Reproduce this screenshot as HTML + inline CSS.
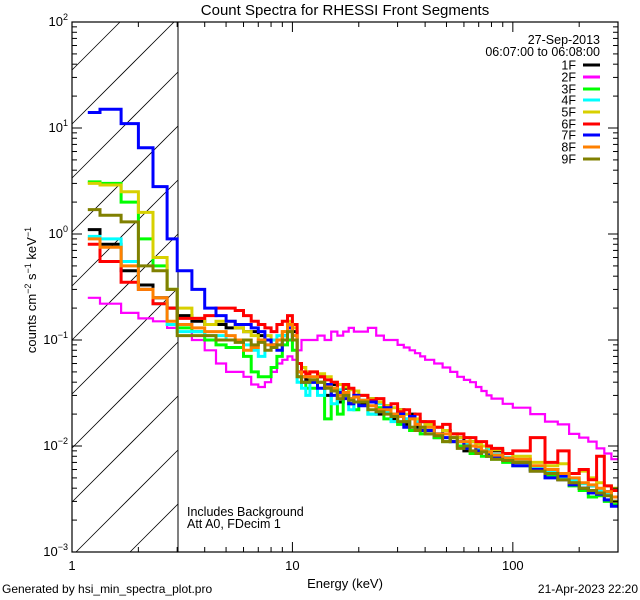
<!DOCTYPE html>
<html><head><meta charset="utf-8"><style>
html,body{margin:0;padding:0;background:#fff;width:640px;height:600px;overflow:hidden;}
svg{display:block;font-family:"Liberation Sans",sans-serif;overflow:hidden;}
</style></head><body>
<svg id="chart" width="640" height="600" viewBox="0 0 640 600" xmlns="http://www.w3.org/2000/svg">
<rect x="0" y="0" width="640" height="600" fill="#fff"/>
<g id="hatch" stroke="#000" stroke-width="0.8"></g>
<line x1="178" y1="22" x2="178" y2="552" stroke="#000" stroke-width="1"/>
<g id="series"></g>
<rect x="72" y="22" width="546" height="530" fill="none" stroke="#000" stroke-width="1.2"/>
<g id="ticks" stroke="#000" stroke-width="1"></g>
<g id="labels" font-size="13" fill="#000"></g>
<text x="345" y="15" font-size="15" text-anchor="middle">Count Spectra for RHESSI Front Segments</text>
<text x="345" y="588" font-size="13" text-anchor="middle">Energy (keV)</text>
<text transform="translate(36,290) rotate(-90)" font-size="13" text-anchor="middle">counts cm<tspan dy="-5" font-size="9">−2</tspan><tspan dy="5"> s</tspan><tspan dy="-5" font-size="9">−1</tspan><tspan dy="5"> keV</tspan><tspan dy="-5" font-size="9">−1</tspan></text>
<text x="600" y="44" font-size="12.5" text-anchor="end">27-Sep-2013</text>
<text x="600" y="56" font-size="12.5" text-anchor="end">06:07:00 to 06:08:00</text>
<g id="legend" font-size="12.5"></g>
<text x="187" y="516" font-size="12.5">Includes Background</text>
<text x="187" y="528" font-size="12.5">Att A0, FDecim 1</text>
<text x="2" y="593" font-size="12">Generated by hsi_min_spectra_plot.pro</text>
<text x="638" y="593" font-size="12" text-anchor="end">21-Apr-2023 22:20</text>
</svg>
<script>
const edges=[1.18,1.34,1.67,2.0,2.33,2.7,3.0,3.5,4,4.5,5,5.5,6,6.5,7,7.5,8,8.5,9,9.5,10,10.5,11,11.5,12,13,14,15,16,17,18,19,20,22,24,26,28,30,32,34,36,38,40,44,48,52,56,60,64,68,72,76,80,90,100,120,140,160,180,200,220,240,260,280,300];
const seriesNames=["1F","2F","3F","4F","5F","6F","7F","8F","9F"];
const seriesColors=["#000000","#ff00ff","#00ff00","#00ffff","#d8d000","#ff0000","#0000ff","#ff8000","#808000"];
const s1F=[1.1,0.8,0.45,0.33,0.25,0.2, 0.17,0.15,0.14,0.14,0.13,0.13,0.12,0.12,0.11,0.1,0.09,0.1,0.11,0.14,0.12,0.05,0.045,0.042, 0.04,0.045,0.03,0.038,0.026,0.035,0.025,0.03, 0.025,0.028,0.02,0.024,0.018,0.022,0.016,0.02,0.015,0.017, 0.014,0.012,0.014,0.011,0.012,0.009,0.011,0.0085,0.01,0.008, 0.009,0.0075, 0.007,0.0058,0.006,0.0048,0.0045,0.004,0.0042,0.0035,0.0037,0.003];
const s2F=[0.25,0.22,0.18,0.16,0.15,0.13, 0.12,0.1,0.08,0.06,0.05,0.05,0.045,0.038,0.036,0.04,0.05,0.06,0.065,0.07,0.065,0.08,0.1,0.1, 0.1,0.11,0.1,0.12,0.11,0.12,0.13,0.12, 0.12,0.13,0.11,0.1,0.1,0.09,0.085,0.08,0.075,0.07, 0.065,0.06,0.055,0.05,0.045,0.042,0.04,0.036,0.033,0.03, 0.028,0.025, 0.023,0.02,0.017,0.016,0.013,0.012,0.011,0.0095,0.0085,0.0075];
const s3F=[3.1,3.0,2.0,0.9,0.5,0.3, 0.13,0.12,0.1,0.09,0.085,0.085,0.07,0.05,0.045,0.045,0.055,0.07,0.09,0.1,0.08,0.045,0.04,0.035, 0.035,0.04,0.018,0.035,0.02,0.03,0.028,0.022, 0.026,0.02,0.023,0.018,0.02,0.016,0.018,0.014,0.016,0.013, 0.013,0.012,0.011,0.012,0.01,0.0095,0.0085,0.009,0.008,0.0085, 0.0075,0.007, 0.0065,0.006,0.0052,0.005,0.0042,0.0038,0.0033,0.0034,0.003,0.0028];
const s4F=[0.95,0.9,0.55,0.3,0.22,0.14, 0.12,0.12,0.11,0.11,0.1,0.1,0.09,0.08,0.07,0.09,0.1,0.11,0.11,0.12,0.1,0.04,0.035,0.03, 0.04,0.03,0.038,0.025,0.034,0.03,0.022,0.029, 0.027,0.02,0.025,0.021,0.017,0.02,0.018,0.015,0.017,0.015, 0.015,0.013,0.012,0.013,0.011,0.0105,0.01,0.0095,0.009,0.0092, 0.0083,0.0078, 0.0072,0.0062,0.0058,0.005,0.0048,0.0044,0.0042,0.0038,0.0035,0.0033];
const s5F=[3.0,2.9,2.5,1.6,0.6,0.3, 0.2,0.16,0.14,0.15,0.15,0.13,0.12,0.11,0.1,0.11,0.09,0.1,0.12,0.15,0.13,0.06,0.055,0.05, 0.05,0.048,0.045,0.04,0.038,0.036,0.034,0.033, 0.03,0.028,0.026,0.024,0.023,0.022,0.02,0.019,0.018,0.017, 0.016,0.015,0.014,0.013,0.012,0.012,0.011,0.0105,0.01,0.0098, 0.0092,0.0085, 0.008,0.007,0.0065,0.0068,0.0055,0.0058,0.005,0.0045,0.0042,0.004];
const s6F=[0.8,0.55,0.35,0.3,0.22,0.2, 0.16,0.16,0.17,0.2,0.2,0.19,0.17,0.15,0.14,0.13,0.12,0.14,0.15,0.17,0.14,0.06,0.05,0.048, 0.05,0.045,0.042,0.04,0.032,0.038,0.035,0.03, 0.03,0.027,0.028,0.023,0.025,0.021,0.022,0.019,0.02,0.017, 0.017,0.015,0.016,0.013,0.013,0.012,0.012,0.011,0.011,0.01, 0.0095,0.0085, 0.009,0.012,0.007,0.009,0.0055,0.006,0.0048,0.008,0.0042,0.0038];
const s7F=[14,15,11,6.5,2.8,0.9, 0.45,0.3,0.2,0.17,0.15,0.14,0.14,0.13,0.12,0.1,0.09,0.08,0.1,0.13,0.1,0.05,0.04,0.04, 0.04,0.035,0.038,0.03,0.032,0.028,0.025,0.03, 0.024,0.026,0.021,0.023,0.019,0.02,0.015,0.019,0.016,0.014, 0.014,0.013,0.012,0.011,0.011,0.0095,0.01,0.009,0.0088,0.0082, 0.0078,0.0074, 0.0065,0.006,0.005,0.0052,0.0043,0.004,0.0036,0.0035,0.0031,0.0027];
const s8F=[0.9,0.75,0.5,0.3,0.25,0.15, 0.14,0.13,0.12,0.12,0.11,0.1,0.08,0.085,0.1,0.09,0.09,0.1,0.12,0.14,0.11,0.05,0.045,0.045, 0.045,0.04,0.036,0.035,0.03,0.032,0.028,0.029, 0.027,0.024,0.022,0.022,0.02,0.019,0.017,0.018,0.016,0.015, 0.015,0.013,0.013,0.012,0.011,0.011,0.01,0.0098,0.009,0.0088, 0.0082,0.0077, 0.0075,0.0065,0.006,0.0055,0.005,0.0045,0.0043,0.004,0.0037,0.0033];
const s9F=[1.7,1.5,1.3,0.5,0.45,0.3, 0.11,0.11,0.11,0.1,0.1,0.095,0.1,0.09,0.095,0.08,0.085,0.09,0.1,0.12,0.1,0.045,0.04,0.04, 0.042,0.04,0.035,0.033,0.028,0.03,0.027,0.026, 0.026,0.022,0.021,0.02,0.019,0.017,0.017,0.015,0.014,0.015, 0.013,0.0125,0.011,0.012,0.0095,0.01,0.009,0.0085,0.0088,0.008, 0.0075,0.0073, 0.007,0.0058,0.0055,0.0048,0.0045,0.004,0.0038,0.0036,0.0034,0.003];
const allSeries=[s1F,s2F,s3F,s4F,s5F,s6F,s7F,s8F,s9F];
const xTickLabels=["1","10","100"];
const yTickExps=["-3","-2","-1","0","1","2"];

const NS="http://www.w3.org/2000/svg";
const X0=72,X1=618,Y0=552,Y1=22,HX=178;
const xmin=0,xmax=Math.log10(300),ymin=-3,ymax=2;
function xs(e){return X0+(Math.log10(e)-xmin)/(xmax-xmin)*(X1-X0);}
function ys(v){return Y0-(Math.log10(v)-ymin)/(ymax-ymin)*(Y0-Y1);}
function mk(tag,attrs,parent){const el=document.createElementNS(NS,tag);for(const k in attrs)el.setAttribute(k,attrs[k]);parent.appendChild(el);return el;}

// hatch lines y = c - (x - X0), clipped to [X0,HX]x[Y1,Y0]
const hatch=document.getElementById('hatch');
for(let c=Y1-60;c<Y0+120;c+=54){
  let xa=X0, ya=c;
  if(ya>Y0){xa=X0+(ya-Y0);ya=Y0;}
  let xb=HX, yb=c-(HX-X0);
  if(yb<Y1){xb=X0+(c-Y1);yb=Y1;}
  if(xa>=xb||ya<Y1||xa>HX)continue;
  const ln=mk('line',{x1:xa,y1:ya,x2:xb,y2:yb},hatch);
  
  
}

const sg=document.getElementById('series');
allSeries.forEach((vals,si)=>{
  let d="";
  vals.forEach((v,i)=>{
    const xa=xs(edges[i]),xb=xs(edges[i+1]),y=ys(v);
    d+=(i===0?"M"+xa.toFixed(1)+" "+y.toFixed(1):" V"+y.toFixed(1))+" H"+xb.toFixed(1);
  });
  const p=mk('path',{d:d,fill:"none",stroke:seriesColors[si],"stroke-width":si===1?2.2:3,"stroke-linejoin":"miter"},sg);
  
  
});

const tg=document.getElementById('ticks');
for(let ex=-3;ex<=2;ex++){
  for(let m=1;m<=9;m++){
    const v=m*Math.pow(10,ex); if(ex===2&&m>1)break;
    const y=ys(v),L=m===1?10:5;
    const a=mk('line',{x1:X0,y1:y,x2:X0+L,y2:y},tg);
    
    
    const b=mk('line',{x1:X1,y1:y,x2:X1-L,y2:y},tg);
    
    
  }
}
for(let ex=0;ex<=2;ex++){
  for(let m=1;m<=9;m++){
    const e=m*Math.pow(10,ex); if(e>300)break;
    const x=xs(e),L=m===1?10:5;
    const a=mk('line',{x1:x,y1:Y0,x2:x,y2:Y0-L},tg);
    
    
    const b=mk('line',{x1:x,y1:Y1,x2:x,y2:Y1+L},tg);
    
    
  }
}
const lg=document.getElementById('labels');
xTickLabels.forEach((t,i)=>{
  const el=mk('text',{x:xs(Math.pow(10,i)),y:570,"text-anchor":"middle"},lg);
  el.textContent=t;
  
  
});
yTickExps.forEach((t,i)=>{
  const y=ys(Math.pow(10,Number(t)));
  const el=mk('text',{x:X0-4,y:y+4,"text-anchor":"end"},lg);
  
  
  const a=document.createElementNS(NS,'tspan');a.textContent="10";el.appendChild(a);
  const b=document.createElementNS(NS,'tspan');b.setAttribute('dy','-6');b.setAttribute('font-size','9');b.textContent=t.replace('-','−');el.appendChild(b);
});
const leg=document.getElementById('legend');
const legY=[65,77,89,100,112,124,135,147,159];
seriesNames.forEach((n,i)=>{
  const t=mk('text',{x:576,y:legY[i]+4.5,"text-anchor":"end"},leg);
  t.textContent=n;
  
  
  const l=mk('line',{x1:583,y1:legY[i],x2:600,y2:legY[i],stroke:seriesColors[i],"stroke-width":3},leg);
  
  
});
</script>
</body></html>
